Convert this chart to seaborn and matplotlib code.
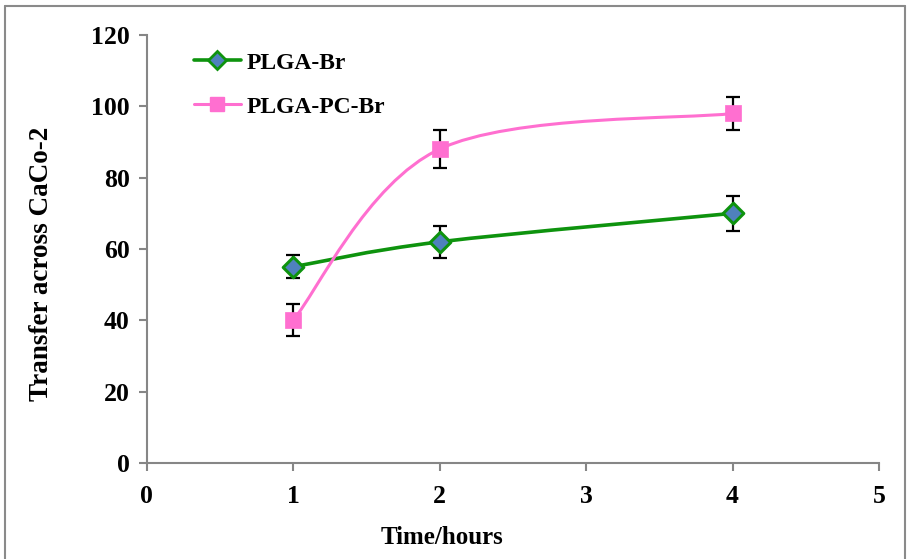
import numpy as np
import pandas as pd
import matplotlib
matplotlib.use("Agg")
import matplotlib.pyplot as plt
from matplotlib.path import Path
from matplotlib.patches import PathPatch
from matplotlib.lines import Line2D
import seaborn as sns

# ---- data ----
time_hours = [1, 2, 4]
plga_br = [55, 62, 70]
plga_br_err = [3.2, 4.5, 5.0]
plga_pc_br = [40, 88, 98]
plga_pc_br_err = [4.5, 5.3, 4.6]
series_names = ["PLGA-Br", "PLGA-PC-Br"]
x_ticks = [0, 1, 2, 3, 4, 5]
y_ticks = [0, 20, 40, 60, 80, 100, 120]

sns.set_style("ticks")
plt.rcParams['font.family'] = ['Liberation Serif', 'DejaVu Serif']
plt.rcParams['font.weight'] = 'bold'
plt.rcParams['text.color'] = 'black'
plt.rcParams['axes.labelcolor'] = 'black'
plt.rcParams['xtick.color'] = '#868686'
plt.rcParams['ytick.color'] = '#868686'
plt.rcParams['xtick.labelcolor'] = 'black'
plt.rcParams['ytick.labelcolor'] = 'black'

fig = plt.figure(figsize=(9.08, 5.59), dpi=100)
ax = fig.add_axes([146.5/908, 1-463/559, (879-146.5)/908, (463-35)/559])

GREEN = "#0E930E"
PINK = "#FF6FD0"
BLUE = "#4F81BD"


def smooth_path(xs, ys):
    pts = np.column_stack([xs, ys]).astype(float)
    n = len(pts)
    verts = [pts[0]]
    codes = [Path.MOVETO]
    for i in range(n - 1):
        p_prev = pts[i - 1] if i > 0 else pts[i]
        p_next2 = pts[i + 2] if i + 2 < n else pts[i + 1]
        c1 = pts[i] + (pts[i + 1] - p_prev) / 6.0
        c2 = pts[i + 1] - (p_next2 - pts[i]) / 6.0
        verts += [c1, c2, pts[i + 1]]
        codes += [Path.CURVE4] * 3
    return Path(verts, codes)


for ys, color, lw in [(plga_br, GREEN, 2.6), (plga_pc_br, PINK, 2.2)]:
    ax.add_patch(PathPatch(smooth_path(time_hours, ys), fill=False,
                           edgecolor=color, lw=lw, zorder=2))

ax.errorbar(time_hours, plga_br, yerr=plga_br_err, fmt="none", ecolor="black",
            elinewidth=1.6, capsize=5, capthick=1.6, zorder=3)
ax.errorbar(time_hours, plga_pc_br, yerr=plga_pc_br_err, fmt="none", ecolor="black",
            elinewidth=1.6, capsize=5, capthick=1.6, zorder=3)

df1 = pd.DataFrame({"t": time_hours, "v": plga_br})
df2 = pd.DataFrame({"t": time_hours, "v": plga_pc_br})
sns.scatterplot(data=df1, x="t", y="v", marker="D", s=110, color=BLUE,
                edgecolor=GREEN, linewidth=2.2, ax=ax, zorder=4)
sns.scatterplot(data=df2, x="t", y="v", marker="s", s=120, color=PINK,
                edgecolor=PINK, linewidth=0.5, ax=ax, zorder=4)

ax.set_xlim(0, 5)
ax.set_ylim(0, 120)
ax.set_xticks(x_ticks)
ax.set_yticks(y_ticks)
ax.set_xticklabels([str(v) for v in x_ticks])
ax.set_yticklabels([str(v) for v in y_ticks])
for s in ["top", "right"]:
    ax.spines[s].set_visible(False)
for s in ["left", "bottom"]:
    ax.spines[s].set_color("#868686")
    ax.spines[s].set_linewidth(1.5)
ax.tick_params(axis="both", direction="out", length=6, width=1.5, color="#868686",
               labelcolor="black", labelsize=18.5)
ax.tick_params(axis="x", pad=10)
ax.tick_params(axis="y", pad=6)
for lbl in ax.get_xticklabels() + ax.get_yticklabels():
    lbl.set_fontweight("bold")

ax.set_xlabel("Time/hours", fontsize=18, fontweight="bold", color="black")
ax.set_ylabel("Transfer across CaCo-2", fontsize=19.5, fontweight="bold", color="black")
# label positions (axes fraction)
ax.xaxis.set_label_coords((442 - 146.5) / (879 - 146.5), -(537 - 463) / (463 - 35), transform=ax.transAxes)
ax.xaxis.label.set_verticalalignment("center")
ax.yaxis.set_label_coords(-(146.5 - 42) / (879 - 146.5), (463 - 264) / (463 - 35), transform=ax.transAxes)
ax.yaxis.label.set_verticalalignment("center")

handles = [
    Line2D([], [], color=GREEN, lw=2.6, marker="D", markersize=9,
           markerfacecolor=BLUE, markeredgecolor=GREEN, markeredgewidth=2),
    Line2D([], [], color=PINK, lw=2.2, marker="s", markersize=10,
           markerfacecolor=PINK, markeredgecolor=PINK),
]
leg = ax.legend(handles, series_names, loc="upper left", bbox_to_anchor=(0.045, 0.993),
                frameon=False, prop={"family": "Liberation Serif", "weight": "bold", "size": 17},
                handlelength=2.0, handletextpad=0.25, labelspacing=0.95, borderaxespad=0.2)
for t in leg.get_texts():
    t.set_color("black")

# outer frame
fig.add_artist(Line2D([5/908, 5/908], [0, 1-6/559], transform=fig.transFigure, color="#8a8a8a", lw=1.5))
fig.add_artist(Line2D([5/908, 905/908], [1-6/559, 1-6/559], transform=fig.transFigure, color="#8a8a8a", lw=1.5))
fig.add_artist(Line2D([905/908, 905/908], [0, 1-6/559], transform=fig.transFigure, color="#8a8a8a", lw=1.5))

fig.savefig("out.png", dpi=100)
